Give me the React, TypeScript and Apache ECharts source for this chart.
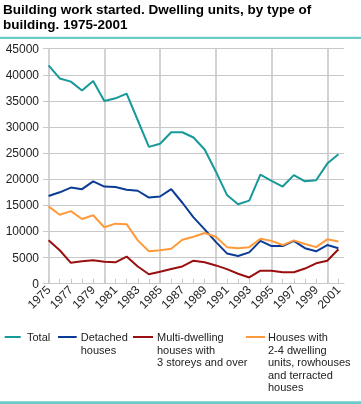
import React, { useEffect, useRef } from "react";
import * as echarts from "echarts";

const years = [1975,1976,1977,1978,1979,1980,1981,1982,1983,1984,1985,1986,1987,1988,1989,1990,1991,1992,1993,1994,1995,1996,1997,1998,1999,2000,2001];
const total = [41800,39300,38700,37000,38800,35000,35500,36400,31300,26200,26800,29000,29000,28000,25700,21500,17000,15200,15900,20900,19700,18600,20800,19600,19800,23000,24800];
const detached = [16800,17500,18400,18100,19600,18600,18500,18000,17800,16500,16700,18100,15500,12700,10400,8000,5800,5300,6000,8200,7200,7200,8200,6800,6200,7400,6800];
const multi = [8300,6400,4000,4300,4500,4200,4100,5200,3300,1800,2300,2800,3300,4400,4100,3500,2800,1900,1200,2500,2500,2200,2200,2900,3900,4400,6600];
const houses = [14800,13200,13900,12400,13100,10800,11500,11400,8300,6200,6400,6700,8400,9000,9700,9000,7000,6800,7000,8600,8200,7400,8300,7600,7000,8500,8100];
const labelYears = [1975,1977,1979,1981,1983,1985,1987,1989,1991,1993,1995,1997,1999,2001];
const gridYears = [1975,1980,1985,1990,1995,2000];
const seriesNames = [
  ["Total"],
  ["Detached", "houses"],
  ["Multi-dwelling", "houses with", "3 storeys and over"],
  ["Houses with", "2-4 dwelling", "units, rowhouses", "and terracted", "houses"],
];
const colors = ["#17999a", "#0a3c94", "#9a0f0f", "#ff9a3c"];

const FONT = "Liberation Sans";

export default function App() {
  const ref = useRef<HTMLDivElement>(null);
  useEffect(() => {
    document.body.style.margin = "0";
    const chart = echarts.init(ref.current!, null, { renderer: "svg" });
    const dataSets = [total, detached, multi, houses];
    const legendPos = [
      { lx: 4.7, lw: 16, tx: 27 },
      { lx: 58, lw: 18.7, tx: 80.7 },
      { lx: 133, lw: 20, tx: 157 },
      { lx: 246, lw: 19, tx: 268 },
    ];
    const legendGraphics: any[] = [];
    legendPos.forEach((p, i) => {
      legendGraphics.push({
        type: "line",
        shape: { x1: p.lx, y1: 337, x2: p.lx + p.lw, y2: 337 },
        style: { stroke: colors[i], lineWidth: 2 },
      });
      seriesNames[i].forEach((line, k) => {
        legendGraphics.push({
          type: "text",
          x: p.tx,
          y: 337 + k * 12.5,
          style: {
            text: line,
            font: `11px "${FONT}"`,
            fill: "#222",
            verticalAlign: "middle",
          },
        });
      });
    });
    chart.setOption({
      animation: false,
      grid: { left: 43, right: 17, top: 48.7, bottom: 120.3 },
      xAxis: [
        {
          type: "value",
          min: 1974.5,
          max: 2001.5,
          axisLine: { show: true, lineStyle: { color: "#c8c8c8", width: 1 } },
          axisTick: { show: true, inside: true, length: 5, customValues: years, lineStyle: { color: "#c8c8c8" } },
          axisLabel: {
            customValues: labelYears,
            rotate: 45,
            margin: 4,
            fontSize: 12,
            fontFamily: FONT,
            color: "#222",
            formatter: (v: number) => String(v),
          },
          splitLine: { show: false },
        },
        {
          type: "value",
          min: 1974.5,
          max: 2001.5,
          position: "bottom",
          axisLine: { show: false },
          axisTick: { show: false, customValues: gridYears },
          axisLabel: { show: false },
          splitLine: { show: true, lineStyle: { color: "#c8c8c8", width: 1.6 } },
        },
      ],
      yAxis: {
        type: "value",
        min: 0,
        max: 45000,
        interval: 5000,
        axisLine: { show: false },
        axisTick: { show: false },
        axisLabel: { margin: 4, fontSize: 12, fontFamily: FONT, color: "#222", formatter: (v: number) => String(v) },
        splitLine: { lineStyle: { color: "#c8c8c8", width: 1 } },
      },
      series: dataSets.map((d, i) => ({
        type: "line",
        name: seriesNames[i].join(" "),
        xAxisIndex: 0,
        data: d.map((v, j) => [years[j], v]),
        showSymbol: false,
        lineStyle: { color: colors[i], width: 2 },
        itemStyle: { color: colors[i] },
      })),
      graphic: [
        {
          type: "text",
          x: 3,
          y: 9,
          style: {
            text: "Building work started. Dwelling units, by type of",
            font: `bold 13.5px "${FONT}"`,
            fill: "#000",
            verticalAlign: "middle",
          },
        },
        {
          type: "text",
          x: 3,
          y: 24,
          style: {
            text: "building. 1975-2001",
            font: `bold 13.5px "${FONT}"`,
            fill: "#000",
            verticalAlign: "middle",
          },
        },
        { type: "rect", shape: { x: 0, y: 36.7, width: 361, height: 2.3 }, style: { fill: "#6ccbc6" } },
        { type: "rect", shape: { x: 0, y: 401.2, width: 361, height: 2.8 }, style: { fill: "#6ccbc6" } },
        ...legendGraphics,
      ],
    });
    return () => chart.dispose();
  }, []);
  return <div ref={ref} style={{ position: "fixed", left: 0, top: 0, width: 361, height: 404 }} />;
}
